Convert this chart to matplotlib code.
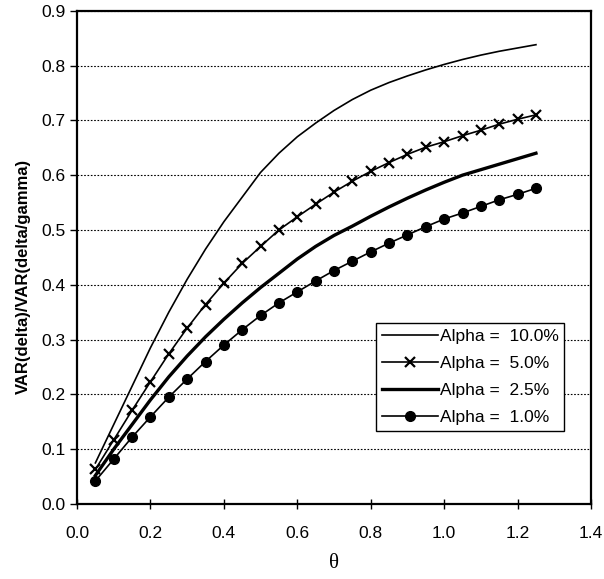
import matplotlib
matplotlib.use("Agg")
import matplotlib.pyplot as plt

plt.rcParams['font.family'] = ['Liberation Sans', 'DejaVu Sans']

theta = [0.05, 0.10, 0.15, 0.20, 0.25, 0.30, 0.35, 0.40, 0.45, 0.50,
         0.55, 0.60, 0.65, 0.70, 0.75, 0.80, 0.85, 0.90, 0.95, 1.00,
         1.05, 1.10, 1.15, 1.20, 1.25]

alpha_10 = [0.075, 0.145, 0.215, 0.285, 0.350, 0.410, 0.465, 0.515, 0.560, 0.605,
            0.640, 0.670, 0.695, 0.718, 0.738, 0.755, 0.769, 0.781, 0.792, 0.802,
            0.811, 0.819, 0.826, 0.832, 0.838]
alpha_5 = [0.063, 0.117, 0.171, 0.223, 0.274, 0.321, 0.364, 0.403, 0.439, 0.470,
           0.500, 0.524, 0.547, 0.569, 0.589, 0.607, 0.623, 0.638, 0.651, 0.661,
           0.672, 0.682, 0.693, 0.702, 0.710]
alpha_25 = [0.052, 0.100, 0.145, 0.190, 0.232, 0.270, 0.305, 0.337, 0.367, 0.395,
            0.421, 0.447, 0.470, 0.490, 0.507, 0.525, 0.542, 0.558, 0.573, 0.587,
            0.600, 0.610, 0.620, 0.630, 0.640]
alpha_1 = [0.042, 0.082, 0.122, 0.159, 0.195, 0.228, 0.260, 0.290, 0.318, 0.344,
           0.367, 0.387, 0.407, 0.426, 0.443, 0.460, 0.476, 0.491, 0.506, 0.520,
           0.531, 0.543, 0.555, 0.565, 0.576]

labels = ['Alpha =  10.0%', 'Alpha =  5.0%', 'Alpha =  2.5%', 'Alpha =  1.0%']

fig = plt.figure(figsize=(6.04, 5.79), dpi=100)
ax = fig.add_axes([0.1275, 0.1295, 0.851, 0.852])

ax.plot(theta, alpha_10, color='black', lw=1.2, label=labels[0])
ax.plot(theta, alpha_5, color='black', lw=1.2, marker='x', markersize=7,
        markeredgewidth=1.6, label=labels[1])
ax.plot(theta, alpha_25, color='black', lw=2.4, label=labels[2])
ax.plot(theta, alpha_1, color='black', lw=1.2, marker='o', markersize=7,
        label=labels[3])

ax.set_xlim(0, 1.4)
ax.set_ylim(0, 0.9)
ax.set_xticks([0.0, 0.2, 0.4, 0.6, 0.8, 1.0, 1.2, 1.4])
ax.set_yticks([0.0, 0.1, 0.2, 0.3, 0.4, 0.5, 0.6, 0.7, 0.8, 0.9])
ax.xaxis.set_major_formatter(matplotlib.ticker.FormatStrFormatter('%.1f'))
ax.yaxis.set_major_formatter(matplotlib.ticker.FormatStrFormatter('%.1f'))
ax.tick_params(axis='x', direction='inout', length=7, width=1, labelsize=12.5, pad=12)
ax.tick_params(axis='y', direction='out', length=5, width=1, labelsize=12.5, pad=3)

ax.yaxis.grid(True, linestyle=(0, (1.5, 1.5)), color='black', lw=0.8)
ax.set_axisbelow(True)

for s in ax.spines.values():
    s.set_linewidth(1.6)

ax.set_ylabel('VAR(delta)/VAR(delta/gamma)', fontsize=12, fontweight='bold')
ax.yaxis.set_label_coords(-0.09, 0.462)
ax.set_xlabel('θ', fontsize=15, family=['Liberation Serif', 'DejaVu Serif'])
ax.xaxis.set_label_coords(0.5, -0.102)

leg = ax.legend(loc='lower left', bbox_to_anchor=(0.582, 0.148), fontsize=12.5,
                frameon=True, fancybox=False, framealpha=1, edgecolor='black',
                handlelength=3.2, handletextpad=0.1, borderpad=0.35,
                labelspacing=0.68, borderaxespad=0)
leg.get_frame().set_linewidth(1.0)

plt.savefig('out.png', dpi=100)
